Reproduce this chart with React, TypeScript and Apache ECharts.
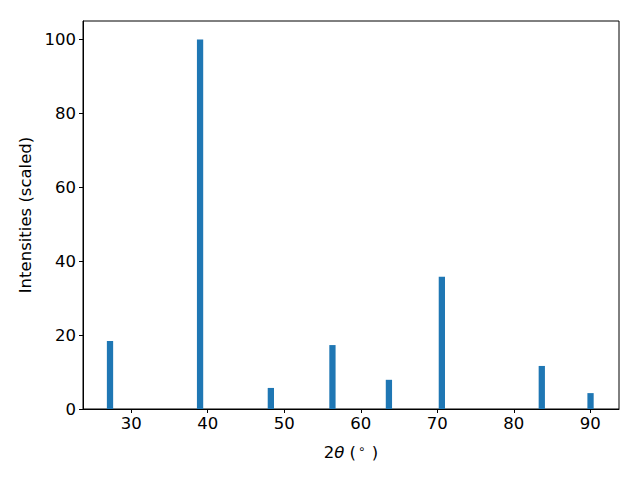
import React, { useEffect, useRef } from "react";
import * as echarts from "echarts";

const peakPositions = [27.23, 39.0, 48.25, 56.3, 63.68, 70.6, 83.66, 90.03];
const peakIntensities = [18.4, 100, 5.7, 17.3, 7.9, 35.8, 11.65, 4.3];
const xTicks = [30, 40, 50, 60, 70, 80, 90];
const yTicks = [0, 20, 40, 60, 80, 100];
const BAR_WIDTH = 0.82;

export default function App() {
  const ref = useRef<HTMLDivElement>(null);
  useEffect(() => {
    if (!ref.current) return;
    const chart = echarts.init(ref.current, null, { renderer: "svg" });
    const font = "DejaVu Sans";
    const fs = 16.5;
    const data = peakPositions.map((x, i) => [x, peakIntensities[i]]);
    chart.setOption({
      animation: false,
      textStyle: { fontFamily: font },
      grid: {
        left: 83,
        right: 21,
        top: 21,
        bottom: 71,
        show: true,
        borderColor: "#000",
        borderWidth: 1,
        backgroundColor: "#fff",
      },
      xAxis: {
        type: "value",
        min: 23.7,
        max: 93.75,
        splitLine: { show: false },
        axisLine: { show: true, lineStyle: { color: "#000", width: 1 } },
        axisTick: {
          show: true,
          inside: false,
          length: 4,
          lineStyle: { color: "#000", width: 1 },
          customValues: xTicks,
        },
        axisLabel: {
          color: "#000",
          fontSize: fs,
          fontFamily: font,
          margin: 6,
          customValues: xTicks,
        },
        name: "{n|2}{i|θ}{n| (}{s|∘}{n| )}",
        nameLocation: "middle",
        nameGap: 34,
        nameTextStyle: {
          color: "#000",
          fontSize: fs,
          fontFamily: font,
          rich: {
            n: { fontSize: fs, fontFamily: font, color: "#000" },
            i: { fontSize: fs, fontFamily: font, fontStyle: "italic", color: "#000" },
            s: { fontSize: 12, fontFamily: font, color: "#000", padding: [0, 1, 7, 2] },
          },
        },
      },
      yAxis: {
        type: "value",
        min: 0,
        max: 105,
        splitLine: { show: false },
        axisLine: { show: true, lineStyle: { color: "#000", width: 1 } },
        axisTick: {
          show: true,
          inside: false,
          length: 4,
          lineStyle: { color: "#000", width: 1 },
          customValues: yTicks,
        },
        axisLabel: {
          color: "#000",
          fontSize: fs,
          fontFamily: font,
          margin: 7,
          customValues: yTicks,
        },
        name: "Intensities (scaled)",
        nameLocation: "middle",
        nameGap: 48,
        nameTextStyle: { color: "#000", fontSize: fs, fontFamily: font },
      },
      series: [
        {
          type: "custom",
          data,
          renderItem: (params: any, api: any) => {
            const x = api.value(0);
            const y = api.value(1);
            const p1 = api.coord([x - BAR_WIDTH / 2, y]);
            const p2 = api.coord([x + BAR_WIDTH / 2, 0]);
            return {
              type: "rect",
              shape: { x: p1[0], y: p1[1], width: p2[0] - p1[0], height: p2[1] - p1[1] },
              style: { fill: "#1f77b4" },
            };
          },
        },
      ],
    });
    return () => chart.dispose();
  }, []);
  return <div ref={ref} style={{ width: 640, height: 480, margin: -8 }} />;
}
